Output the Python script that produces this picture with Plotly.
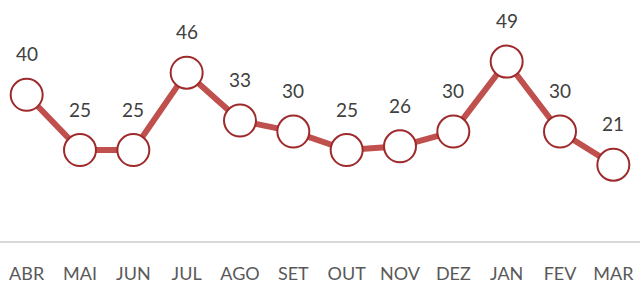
import plotly.graph_objects as go

months = ["ABR", "MAI", "JUN", "JUL", "AGO", "SET", "OUT", "NOV", "DEZ", "JAN", "FEV", "MAR"]
values = [40, 25, 25, 46, 33, 30, 25, 26, 30, 49, 30, 21]

fig = go.Figure()
fig.add_trace(go.Scatter(
    x=months, y=values, mode="lines+markers",
    line=dict(color="#C0504D", width=6),
    marker=dict(size=32, color="white", line=dict(color="#9E2A2B", width=2)),
    hoverinfo="skip",
))
for m, v in zip(months, values):
    fig.add_annotation(x=m, y=v, text=str(v), showarrow=False, yshift=41,
                       font=dict(family="Lato", size=19, color="#404040"))

fig.update_layout(
    width=641, height=284,
    margin=dict(l=0, r=1, t=20, b=40),
    paper_bgcolor="white", plot_bgcolor="white",
    showlegend=False,
    xaxis=dict(showgrid=False, showline=True, linecolor="#D9D9D9", linewidth=2,
               ticks="outside", ticklen=15, tickcolor="rgba(0,0,0,0)",
               tickfont=dict(family="Lato", size=18, color="#595959"),
               range=[-0.5, 11.5], fixedrange=True),
    yaxis=dict(visible=False, range=[0.3, 60.3], fixedrange=True),
)
fig.write_html("out.html", config={"displayModeBar": False},
               post_script="document.body.style.margin='0';document.body.style.overflow='hidden';")
